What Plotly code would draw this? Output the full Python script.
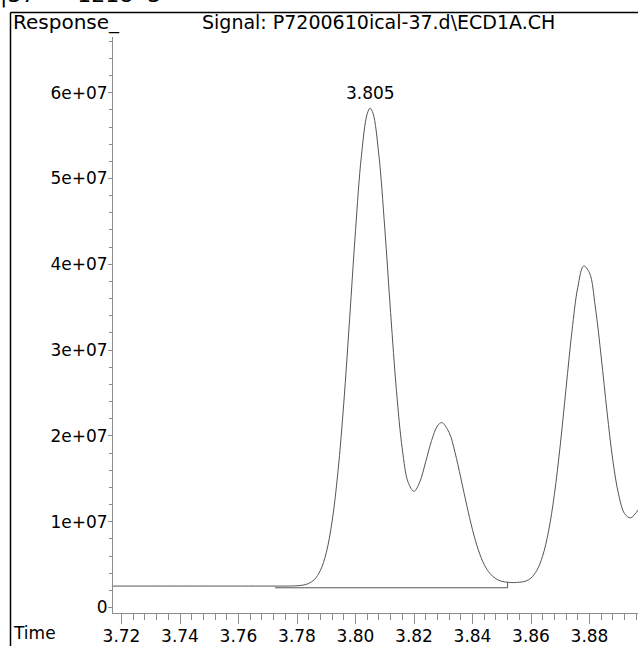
import plotly.graph_objects as go

# Chromatogram trace (retention time in min, detector response)
time_min = [3.716, 3.730, 3.750, 3.770, 3.776, 3.780, 3.782, 3.784, 3.786, 3.788,
            3.790, 3.792, 3.794, 3.796, 3.798, 3.800, 3.802, 3.804, 3.805, 3.806,
            3.808, 3.810, 3.812, 3.814, 3.816, 3.818, 3.820, 3.822, 3.824, 3.826,
            3.828, 3.8295, 3.832, 3.834, 3.836, 3.838, 3.840, 3.842, 3.844, 3.846,
            3.848, 3.850, 3.852, 3.854, 3.856, 3.858, 3.860, 3.862, 3.864, 3.866,
            3.868, 3.870, 3.872, 3.874, 3.876, 3.878, 3.880, 3.882, 3.884, 3.886,
            3.888, 3.890, 3.892, 3.894, 3.896, 3.898]
response_1e6 = [2.5, 2.5, 2.5, 2.5, 2.5, 2.53, 2.61, 2.80, 3.28, 4.32,
                6.38, 10.04, 15.81, 23.86, 33.69, 43.93, 52.57, 57.54, 58.2, 57.59,
                52.7, 44.24, 34.38, 25.27, 18.46, 14.59, 13.54, 14.66, 16.98, 19.44,
                21.15, 21.55, 20.4, 18.1, 15.1, 11.96, 9.06, 6.71, 5.0, 3.95,
                3.35, 3.05, 2.95, 2.9, 2.95, 3.05, 3.43, 4.33, 6.03, 8.89,
                13.19, 18.93, 25.6, 32.19, 37.33, 39.8, 39.0, 35.0, 29.2, 22.8,
                17.1, 13.1, 10.94, 10.45, 11.08, 12.1]
response = [v * 1e6 for v in response_1e6]

# Integration baseline drawn under the labelled peak
baseline_start = 3.7725
baseline_end = 3.852
baseline_level = 2.3e6

peak_rt = 3.805
peak_label = "3.805"

x_ticks = [3.72, 3.74, 3.76, 3.78, 3.80, 3.82, 3.84, 3.86, 3.88]
x_ticktext = ["3.72", "3.74", "3.76", "3.78", "3.80", "3.82", "3.84", "3.86", "3.88"]
y_ticks = [0, 1e7, 2e7, 3e7, 4e7, 5e7, 6e7]
y_ticktext = ["0", "1e+07", "2e+07", "3e+07", "4e+07", "5e+07", "6e+07"]

title_text = "Signal: P7200610ical-37.d\\ECD1A.CH"
y_title = "Response_"
x_title = "Time"
header_text = "|37      1218  3"

# Page geometry (pixels)
W, H = 638, 646
L, R, T, B = 113, 638, 37, 613
FONT = "DejaVu Sans"


def px_x(px):
    return (px - L) / (R - L)


def px_y(py):
    return (B - py) / (B - T)


# value at the end of the integration baseline, taken from the trace
end_idx = time_min.index(baseline_end)
drop_top = response[end_idx]
peak_val = response[time_min.index(peak_rt)]

fig = go.Figure()
fig.add_trace(go.Scatter(
    x=time_min, y=response, mode="lines",
    line=dict(color="#555555", width=1, shape="spline", smoothing=1.0),
    hoverinfo="skip", showlegend=False))
fig.add_trace(go.Scatter(
    x=[baseline_start, baseline_end, baseline_end],
    y=[baseline_level, baseline_level, drop_top], mode="lines",
    line=dict(color="#555555", width=1),
    hoverinfo="skip", showlegend=False))

fig.add_annotation(x=peak_rt, y=peak_val, text=peak_label, showarrow=False,
                   xanchor="center", yanchor="bottom", yshift=3,
                   font=dict(family=FONT, size=17, color="black"))

# header texts and frame
fig.add_annotation(xref="paper", yref="paper", x=px_x(11), y=px_y(22),
                   text=y_title, showarrow=False, xanchor="left", yanchor="middle",
                   font=dict(family=FONT, size=20, color="black"))
fig.add_annotation(xref="paper", yref="paper", x=px_x(200), y=px_y(22),
                   text=title_text, showarrow=False, xanchor="left", yanchor="middle",
                   font=dict(family=FONT, size=19, color="black"))
fig.add_annotation(xref="paper", yref="paper", x=px_x(11), y=px_y(633),
                   text=x_title, showarrow=False, xanchor="left", yanchor="middle",
                   font=dict(family=FONT, size=17, color="black"))
fig.add_annotation(xref="paper", yref="paper", x=px_x(-2), y=px_y(10),
                   text=header_text, showarrow=False, xanchor="left", yanchor="bottom",
                   font=dict(family=FONT, size=22, color="black"))

fig.add_shape(type="line", xref="paper", yref="paper",
              x0=px_x(10.5), x1=px_x(10.5), y0=px_y(12.5), y1=px_y(660),
              line=dict(color="black", width=1.5))
fig.add_shape(type="line", xref="paper", yref="paper",
              x0=px_x(10.5), x1=px_x(660), y0=px_y(12.5), y1=px_y(12.5),
              line=dict(color="black", width=1.5))

px_per_unit_y = 8.58e-6
y_zero_px = 607.5
y_lo = (y_zero_px - B) / px_per_unit_y
y_hi = (y_zero_px - T) / px_per_unit_y
px_per_min = 2925
x_lo = 3.72 - (121.5 - L) / px_per_min
x_hi = 3.72 + (R - 121.5) / px_per_min

fig.update_layout(
    width=W, height=H,
    margin=dict(l=L, r=W - R, t=T, b=H - B),
    paper_bgcolor="white", plot_bgcolor="white",
    font=dict(family=FONT, size=17, color="black"),
    xaxis=dict(range=[x_lo, x_hi], showgrid=False, zeroline=False,
               showline=True, linecolor="#8c8c8c", linewidth=1,
               tickmode="array", tickvals=x_ticks, ticktext=x_ticktext,
               ticks="outside", ticklen=10, tickcolor="#8c8c8c",
               ticklabelstandoff=-2,
               tickfont=dict(family=FONT, size=17, color="black"),
               minor=dict(tick0=3.72, dtick=0.004, ticks="outside", ticklen=6,
                          tickcolor="#8c8c8c", showgrid=False)),
    yaxis=dict(range=[y_lo, y_hi], showgrid=False, zeroline=False,
               showline=True, linecolor="#8c8c8c", linewidth=1,
               tickmode="array", tickvals=y_ticks, ticktext=y_ticktext,
               ticks="outside", ticklen=4, tickcolor="#8c8c8c",
               ticklabelstandoff=-3,
               tickfont=dict(family=FONT, size=17, color="black"),
               minor=dict(tick0=0, dtick=2e6, ticks="outside", ticklen=3,
                          tickcolor="#8c8c8c", showgrid=False)),
)

fig.write_html("out.html")
